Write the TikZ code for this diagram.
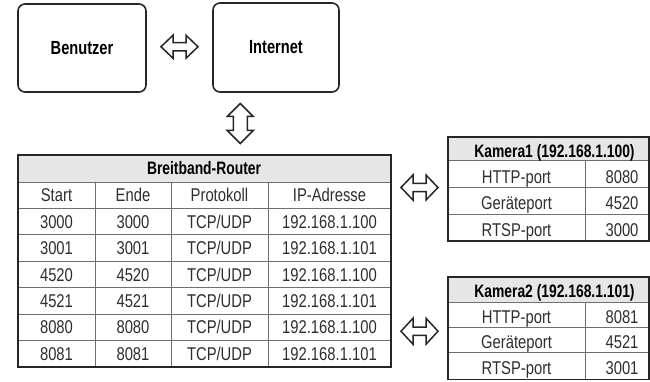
\documentclass[tikz,border=0pt]{standalone}
\usepackage{fontspec}
\setmainfont{Liberation Sans}
\newfontfamily\rgfont{Liberation Sans}[FakeStretch=0.80]
\newfontfamily\bdfont{Liberation Sans}[FakeStretch=0.77]
\usetikzlibrary{calc}
\definecolor{ink}{HTML}{262626}
\definecolor{txt}{HTML}{2E2E2E}
\definecolor{gridc}{HTML}{707070}
\definecolor{headfill}{HTML}{E6E6E6}
\tikzset{
  roundbox/.style={draw=ink, line width=1.6pt, rounded corners=7pt, inner sep=0pt,
    text=black, font=\bdfont\bfseries\fontsize{19}{21}\selectfont},
  tablebox/.style={draw=ink, line width=1.8pt, inner sep=0pt},
  celltxt/.style={inner sep=0pt, text height=13.2pt, text depth=0pt, text=txt,
    font=\rgfont\fontsize{18.5}{21}\selectfont},
  headtxt/.style={inner sep=0pt, text height=12.9pt, text depth=0pt, text=black,
    font=\bdfont\bfseries\fontsize{18}{21}\selectfont},
  gridln/.style={draw=gridc, line width=0.9pt},
  arrowln/.style={draw=ink, line width=1.5pt, line join=miter, fill=white},
  pics/harrow/.style={code={
    \draw[arrowln] (-18.5,0) -- (-6.5,-#1) -- (-6.5,-4.2) -- (6.5,-4.2) -- (6.5,-#1)
      -- (18.5,0) -- (6.5,#1) -- (6.5,4.2) -- (-6.5,4.2) -- (-6.5,#1) -- cycle;}},
  pics/varrow/.style={code={
    \draw[arrowln] (0,-20) -- (13,-7) -- (7,-7) -- (7,7) -- (13,7)
      -- (0,20) -- (-13,7) -- (-7,7) -- (-7,-7) -- (-13,-7) -- cycle;}}
}
\begin{document}
\begin{tikzpicture}[x=1pt,y=-1pt]
\useasboundingbox (0,0) rectangle (650,382);

% top boxes
\node[roundbox, minimum width=128pt, minimum height=88pt] (ben) at (82,48) {Benutzer};
\node[roundbox, minimum width=126pt, minimum height=89pt] (inet) at (276,47.5) {Internet};

% router table
\fill[headfill] (18,155) rectangle (391,182);
\draw[gridln] (18,182) -- (391,182);
\foreach \k in {1,...,6} {
  \draw[gridln] (18,{182+26.43*\k}) -- (391,{182+26.43*\k});
}
\foreach \cx in {95,171,268} {
  \draw[gridln] (\cx,182) -- (\cx,367);
}
\node[tablebox, minimum width=373pt, minimum height=212pt] (router) at (204.5,261) {};
\node[headtxt] (rhead) at (204,168.5) {Breitband-Router};
\foreach \a/\b/\c/\d [count=\k] in {
  Start/Ende/Protokoll/IP-Adresse,
  3000/3000/{TCP/UDP}/192.168.1.100,
  3001/3001/{TCP/UDP}/192.168.1.101,
  4520/4520/{TCP/UDP}/192.168.1.100,
  4521/4521/{TCP/UDP}/192.168.1.101,
  8080/8080/{TCP/UDP}/192.168.1.100,
  8081/8081/{TCP/UDP}/192.168.1.101} {
  \pgfmathsetmacro{\yy}{182+26.43*(\k-0.5)}
  \node[celltxt] (r\k a) at (56.5,\yy) {\a};
  \node[celltxt] (r\k b) at (133,\yy) {\b};
  \node[celltxt] (r\k c) at (219.5,\yy) {\c};
  \node[celltxt] (r\k d) at (329.5,\yy) {\d};
}

% camera 1
\fill[headfill] (448,137) rectangle (649,160.7);
\draw[gridln] (448,160.7) -- (649,160.7);
\draw[gridln] (448,187.3) -- (649,187.3);
\draw[gridln] (448,214) -- (649,214);
\draw[gridln] (585,160.7) -- (585,241);
\node[tablebox, minimum width=201pt, minimum height=104pt] (cam1) at (548.5,189) {};
\node[headtxt] (c1h) at (554.5,151.2) {Kamera1 (192.168.1.100)};
\node[celltxt] (c1a) at (516.5,176.5) {HTTP-port};
\node[celltxt] (c1b) at (622,176.5) {8080};
\node[celltxt] (c1c) at (516.5,203) {Geräteport};
\node[celltxt] (c1d) at (622,203) {4520};
\node[celltxt] (c1e) at (516.5,230) {RTSP-port};
\node[celltxt] (c1f) at (622,230) {3000};

% camera 2
\fill[headfill] (448,277) rectangle (649,302.7);
\draw[gridln] (448,302.7) -- (649,302.7);
\draw[gridln] (448,327) -- (649,327);
\draw[gridln] (448,352.5) -- (649,352.5);
\draw[gridln] (585,302.7) -- (585,379.5);
\node[tablebox, minimum width=201pt, minimum height=102.5pt] (cam2) at (548.5,328.25) {};
\node[headtxt] (c2h) at (554.5,291.5) {Kamera2 (192.168.1.101)};
\node[celltxt] (c2a) at (516.5,317.3) {HTTP-port};
\node[celltxt] (c2b) at (622,317.3) {8081};
\node[celltxt] (c2c) at (516.5,342.3) {Geräteport};
\node[celltxt] (c2d) at (622,342.3) {4521};
\node[celltxt] (c2e) at (516.5,368) {RTSP-port};
\node[celltxt] (c2f) at (622,368) {3001};

% block arrows
\coordinate (m0) at ($(ben.east)!0.5!(inet.west)$);
\coordinate (mv) at ($(inet.south)!0.5!(router.north)$);
\coordinate (m1) at ($(router.east)!0.5!(cam1.west)$);
\coordinate (m2) at ($(router.east)!0.5!(cam2.west)$);
\pic at ([yshift=1pt]m0) {harrow=11.5};
\pic at (mv) {varrow};
\pic at ([yshift=1.5pt]m1 |- cam1.center) {harrow=12.5};
\pic at ([yshift=-3pt]m2 |- cam2.center) {harrow=13};
\end{tikzpicture}
\end{document}
